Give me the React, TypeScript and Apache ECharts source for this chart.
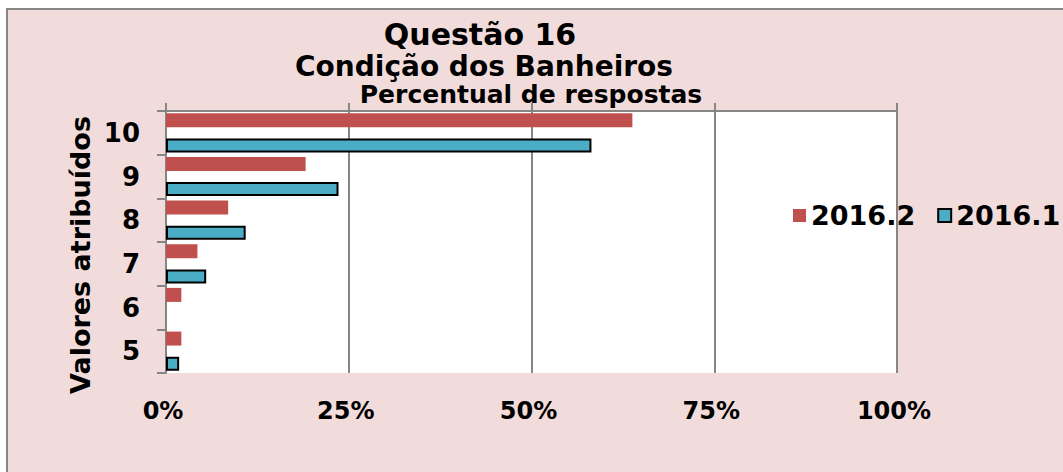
import React, { useEffect, useRef } from 'react';
import * as echarts from 'echarts';

const categories = ['10', '9', '8', '7', '6', '5'];
const seriesNames = ['2016.2', '2016.1'];
const values2016_2 = [63.8, 19.1, 8.5, 4.3, 2.1, 2.1];
const values2016_1 = [58.2, 23.6, 10.9, 5.5, 0, 1.8];
const xTickValues = [0, 25, 50, 75, 100];
const titleLines = ['Questão 16', 'Condição dos Banheiros', 'Percentual de respostas'];
const yAxisTitle = 'Valores atribuídos';

const FONT = 'DejaVu Sans';
const GRAY = '#868686';

export default function App() {
  const ref = useRef<HTMLDivElement>(null);
  useEffect(() => {
    if (!ref.current) return;
    const chart = echarts.init(ref.current, undefined, { renderer: 'svg' });
    const xMin = xTickValues[0];
    const xMax = xTickValues[xTickValues.length - 1];
    const xInterval = xTickValues[1] - xTickValues[0];
    const toData = (arr: number[]) => arr.map((v) => (v === 0 ? null : v));
    const titleStyle = (size: number, lh: number) => ({
      fontFamily: FONT,
      fontWeight: 'bold',
      fontSize: size,
      lineHeight: lh,
      color: '#000',
    });
    chart.setOption({
      animation: false,
      backgroundColor: 'transparent',
      textStyle: { fontFamily: FONT },
      title: [
        { text: titleLines[0], left: 480, top: 22, padding: 0, textAlign: 'center', textStyle: titleStyle(30, 24) },
        { text: titleLines[1], left: 484, top: 55, padding: 0, textAlign: 'center', textStyle: titleStyle(28, 22) },
        { text: titleLines[2], left: 531, top: 84, padding: 0, textAlign: 'center', textStyle: titleStyle(25, 20) },
      ],
      graphic: [
        {
          type: 'text',
          x: 80,
          y: 255,
          rotation: Math.PI / 2,
          style: {
            text: yAxisTitle,
            fontFamily: FONT,
            fontWeight: 'bold',
            fontSize: 27,
            fill: '#000',
            align: 'center',
            verticalAlign: 'middle',
          },
        },
      ],
      legend: {
        data: seriesNames,
        orient: 'horizontal',
        left: 793,
        top: 202,
        width: 300,
        padding: 0,
        icon: 'rect',
        itemWidth: 13,
        itemHeight: 13,
        itemGap: 22,
        textStyle: { fontFamily: FONT, fontWeight: 'bold', fontSize: 27, color: '#000' },
      },
      grid: {
        left: 166,
        right: 166,
        top: 111,
        bottom: 99,
        show: true,
        backgroundColor: '#fff',
        borderWidth: 0,
        containLabel: false,
      },
      xAxis: [
        {
          type: 'value',
          position: 'top',
          min: xMin,
          max: xMax,
          interval: xInterval,
          axisLine: { show: true, lineStyle: { color: GRAY, width: 2 } },
          axisTick: { show: true, length: 8, lineStyle: { color: GRAY, width: 2 } },
          axisLabel: { show: false },
          splitLine: { show: true, lineStyle: { color: GRAY, width: 2 } },
        },
        {
          type: 'value',
          position: 'bottom',
          min: xMin,
          max: xMax,
          interval: xInterval,
          axisLine: { show: false },
          axisTick: { show: false },
          splitLine: { show: false },
          axisLabel: {
            formatter: '{value}%',
            fontFamily: FONT,
            fontWeight: 'bold',
            fontSize: 24,
            color: '#000',
            margin: 26,
            padding: [0, 6, 0, 0],
          },
        },
      ],
      yAxis: {
        type: 'category',
        inverse: true,
        data: categories,
        axisLine: { show: true, lineStyle: { color: GRAY, width: 2 } },
        axisTick: { show: true, length: 9, lineStyle: { color: GRAY, width: 2 } },
        axisLabel: { fontFamily: FONT, fontWeight: 'bold', fontSize: 26, color: '#000', margin: 26 },
        splitLine: { show: false },
      },
      series: [
        {
          name: seriesNames[0],
          type: 'bar',
          xAxisIndex: 0,
          data: toData(values2016_2),
          barWidth: 14,
          barGap: '80%',
          itemStyle: { color: '#C0504D' },
        },
        {
          name: seriesNames[1],
          type: 'bar',
          xAxisIndex: 0,
          data: toData(values2016_1),
          barWidth: 14,
          barGap: '80%',
          itemStyle: { color: '#4BACC6', borderColor: '#000', borderWidth: 2 },
        },
      ],
    });
    return () => chart.dispose();
  }, []);

  return (
    <div style={{ position: 'fixed', left: 0, top: 0, width: 1063, height: 472, background: '#fff', overflow: 'hidden' }}>
      <div
        style={{
          position: 'absolute',
          left: 6,
          top: 8,
          width: 1120,
          height: 520,
          background: '#F2DCDB',
          border: `2px solid ${GRAY}`,
          boxSizing: 'border-box',
        }}
      />
      <div ref={ref} style={{ position: 'absolute', left: 0, top: 0, width: 1063, height: 472 }} />
    </div>
  );
}
